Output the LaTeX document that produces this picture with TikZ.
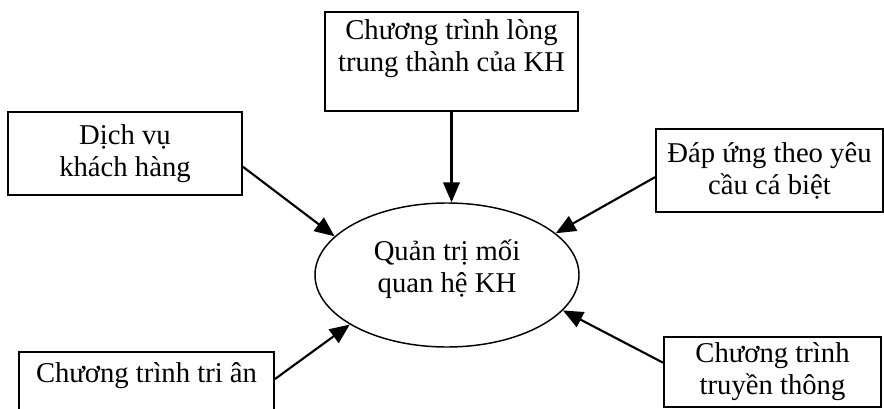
\documentclass[tikz,border=0pt]{standalone}
\usepackage{fontspec}
\setmainfont{Liberation Serif}
\usetikzlibrary{arrows.meta,shapes.geometric}

\begin{document}
\begin{tikzpicture}[x=0.75pt, y=-0.75pt, every node/.style={font=\fontsize{21.5pt}{24pt}\selectfont}]
		\tikzstyle{box}=[rectangle,draw,line width=1.5pt,align=center,inner sep=2pt]
		\tikzstyle{arr}=[draw,line width=1.6pt,-{Triangle[length=15pt,width=12.5pt]}]
		\useasboundingbox (0,0) rectangle (884,409);
		
		\node[ellipse,draw,line width=1.1pt,minimum width=198pt,minimum height=108pt,inner sep=0pt,align=center](crm) at (447,275) {Quản trị mối\\quan hệ KH\\[-10pt]\mbox{}};
		
		\node[box,minimum width=189.75pt,minimum height=74.25pt](loyal) at (451.5,61.5) {Chương trình lòng\\trung thành của KH\\\mbox{}};
		\node[box,minimum width=175.5pt,minimum height=62.25pt](service) at (125,153.5) {Dịch vụ\\khách hàng};
		\node[box,minimum width=170.25pt,minimum height=62.25pt](custom) at (769.5,170.5) {Đáp ứng theo yêu\\cầu cá biệt};
		\node[box,minimum width=191.25pt,minimum height=55.5pt](thanks) at (146.5,389) {Chương trình tri ân\\\mbox{}};
		\node[box,minimum width=162.75pt,minimum height=52.5pt](comm) at (772.5,372) {Chương trình\\truyền thông};
		
		\path (loyal.south) edge[arr] (loyal.south |- crm.north)
		([yshift=-10pt]service.east) edge[arr] (crm.161)
		([yshift=-5pt]custom.west) edge[arr] (crm.21)
		([yshift=7pt]comm.west) edge[arr] (crm.-17)
		([yshift=7.5pt]thanks.east) edge[arr] (crm.-153);
		\end{tikzpicture}
\end{document}
